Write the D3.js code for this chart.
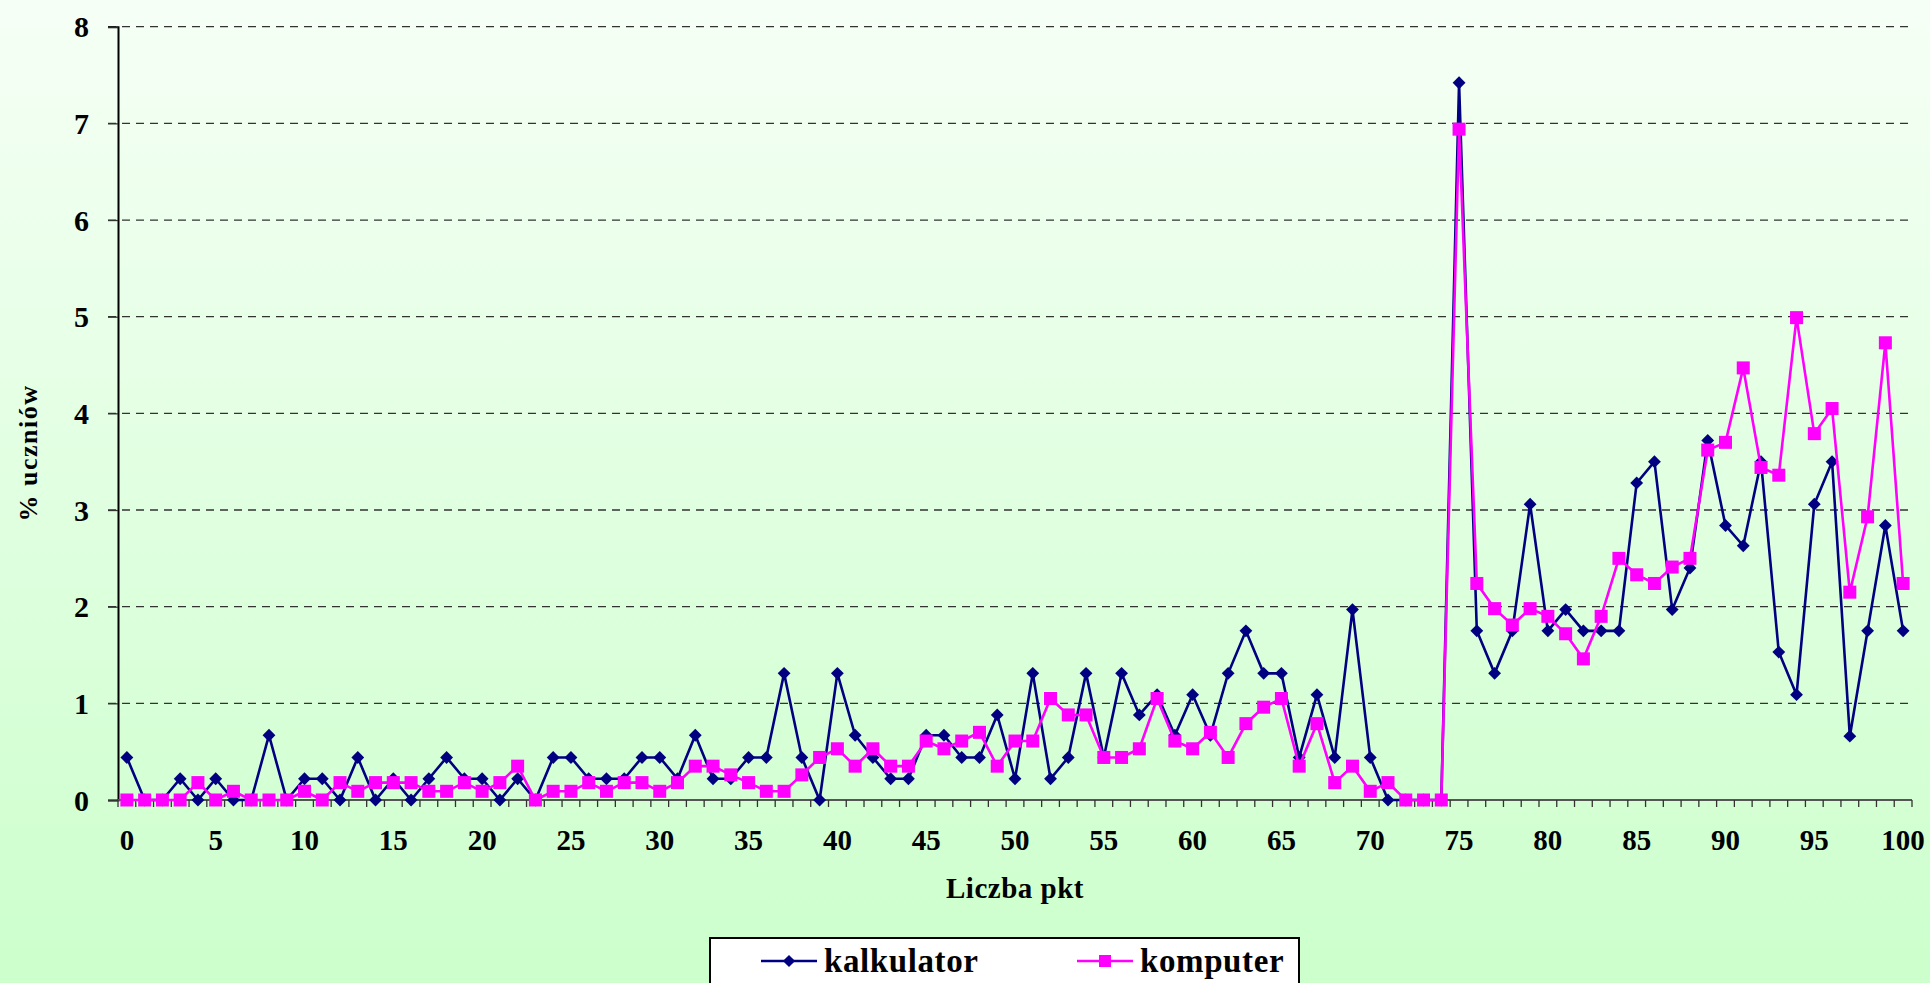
<!DOCTYPE html>
<html>
<head>
<meta charset="utf-8">
<script src="https://cdn.jsdelivr.net/npm/d3@7"></script>
<style>
    body { margin: 0; padding: 0; overflow: hidden; }
    text { font-family: "Liberation Serif", "Times New Roman", serif; font-weight: bold; fill: #000; }
</style>
</head>
<body>
<div id="vis"></div>
<script>
// Points scored (0..100) - the category axis
var points = d3.range(0, 101);

// % of students - calculator group
var kalkulator = [
    0.44, 0, 0, 0.22, 0, 0.22, 0, 0, 0.67, 0,
    0.22, 0.22, 0, 0.44, 0, 0.22, 0, 0.22, 0.44, 0.22,
    0.22, 0, 0.22, 0, 0.44, 0.44, 0.22, 0.22, 0.22, 0.44,
    0.44, 0.22, 0.67, 0.22, 0.22, 0.44, 0.44, 1.31, 0.44, 0,
    1.31, 0.67, 0.44, 0.22, 0.22, 0.67, 0.67, 0.44, 0.44, 0.88,
    0.22, 1.31, 0.22, 0.44, 1.31, 0.44, 1.31, 0.88, 1.09, 0.67,
    1.09, 0.67, 1.31, 1.75, 1.31, 1.31, 0.44, 1.09, 0.44, 1.97,
    0.44, 0, 0, 0, 0, 7.42, 1.75, 1.31, 1.75, 3.06,
    1.75, 1.97, 1.75, 1.75, 1.75, 3.28, 3.50, 1.97, 2.40, 3.72,
    2.84, 2.63, 3.50, 1.53, 1.09, 3.06, 3.50, 0.66, 1.75, 2.84,
    1.75
];

// % of students - computer group
var komputer = [
    0, 0, 0, 0, 0.18, 0, 0.09, 0, 0, 0,
    0.09, 0, 0.18, 0.09, 0.18, 0.18, 0.18, 0.09, 0.09, 0.18,
    0.09, 0.18, 0.35, 0, 0.09, 0.09, 0.18, 0.09, 0.18, 0.18,
    0.09, 0.18, 0.35, 0.35, 0.26, 0.18, 0.09, 0.09, 0.26, 0.44,
    0.53, 0.35, 0.53, 0.35, 0.35, 0.61, 0.53, 0.61, 0.70, 0.35,
    0.61, 0.61, 1.05, 0.88, 0.88, 0.44, 0.44, 0.53, 1.05, 0.61,
    0.53, 0.70, 0.44, 0.79, 0.96, 1.05, 0.35, 0.79, 0.18, 0.35,
    0.09, 0.18, 0, 0, 0, 6.94, 2.24, 1.98, 1.81, 1.98,
    1.90, 1.72, 1.46, 1.90, 2.50, 2.33, 2.24, 2.41, 2.50, 3.62,
    3.70, 4.47, 3.44, 3.36, 4.99, 3.79, 4.05, 2.15, 2.93, 4.73,
    2.24
];

// Tick labels
var xTickLabels = d3.range(0, 101, 5);
var yTickValues = [0, 1, 2, 3, 4, 5, 6, 7, 8];

var seriesNames = ["kalkulator", "komputer"];

// SVG size
var width = 1930;
var height = 983;

// plot area
var margin = { top: 26.7, right: 18, bottom: 183, left: 118 };
var drawWidth = width - margin.left - margin.right;
var drawHeight = height - margin.top - margin.bottom;

var svg = d3.select("#vis").append("svg").attr("width", width).attr("height", height);

// background gradient
var defs = svg.append("defs");
var grad = defs.append("linearGradient").attr("id", "bg").attr("x1", 0).attr("y1", 0).attr("x2", 0).attr("y2", 1);
grad.append("stop").attr("offset", "0%").attr("stop-color", "#f6fff6");
grad.append("stop").attr("offset", "100%").attr("stop-color", "#ccffcc");
svg.append("rect").attr("width", width).attr("height", height).attr("fill", "url(#bg)");

/************************************** Scales ***************************************/
var xScale = d3.scaleBand().domain(points).range([margin.left, margin.left + drawWidth]).paddingInner(0).paddingOuter(0);
var yScale = d3.scaleLinear().domain([0, 8]).range([margin.top + drawHeight, margin.top]);

function cx(d) { return xScale(d) + xScale.bandwidth() / 2; }

/************************************** Gridlines ***************************************/
svg.append("g").selectAll("line")
    .data(yTickValues.filter(function(v) { return v > 0; }))
    .enter().append("line")
    .attr("x1", margin.left - 10)
    .attr("x2", margin.left + drawWidth)
    .attr("y1", function(d) { return yScale(d); })
    .attr("y2", function(d) { return yScale(d); })
    .attr("stroke", "#333")
    .attr("stroke-width", 1.3)
    .attr("stroke-dasharray", "8,6");

/************************************** Axes ***************************************/
// y axis
var yAxis = d3.axisLeft(yScale).tickValues(yTickValues).tickSize(10).tickPadding(19).tickFormat(d3.format("d"));
var gy = svg.append("g").attr("transform", "translate(" + margin.left + ",0)").call(yAxis);
gy.select(".domain").attr("stroke", "#000").attr("stroke-width", 2);
gy.selectAll(".tick line").attr("stroke", "#333").attr("stroke-width", 1.3);
gy.selectAll(".tick text")
    .attr("font-family", "'Liberation Serif', 'Times New Roman', serif")
    .attr("font-size", 30).attr("font-weight", "bold").attr("fill", "#000")
    .attr("dy", "0.34em");

// x axis: line, tick marks at category boundaries, labels every 5
var x0 = margin.left, x1 = margin.left + drawWidth, yZero = yScale(0);
var gx = svg.append("g");
gx.append("line").attr("x1", x0).attr("x2", x1).attr("y1", yZero).attr("y2", yZero)
    .attr("stroke", "#555").attr("stroke-width", 2);
gx.selectAll("line.tk").data(points.concat([101])).enter().append("line")
    .attr("class", "tk")
    .attr("x1", function(d) { return d <= 100 ? xScale(d) : x1; })
    .attr("x2", function(d) { return d <= 100 ? xScale(d) : x1; })
    .attr("y1", yZero).attr("y2", yZero + 7)
    .attr("stroke", "#333").attr("stroke-width", 1.3);
gx.selectAll("text").data(xTickLabels).enter().append("text")
    .attr("x", function(d) { return cx(d); })
    .attr("y", yZero + 50)
    .attr("text-anchor", "middle")
    .attr("font-size", 29)
    .text(function(d) { return d; });

// axis titles
svg.append("text")
    .attr("x", (x0 + x1) / 2).attr("y", 898)
    .attr("text-anchor", "middle")
    .attr("font-size", 29)
    .attr("letter-spacing", 0.5)
    .text("Liczba pkt");

svg.append("text")
    .attr("transform", "translate(37,453) rotate(-90)")
    .attr("text-anchor", "middle")
    .attr("font-size", 26)
    .attr("letter-spacing", 1.5)
    .text("% uczniów");

/************************************** Series ***************************************/
var line = d3.line().x(function(d, i) { return cx(points[i]); }).y(function(d) { return yScale(d); });
var diamond = d3.symbol().type(d3.symbolDiamond2).size(105);

// kalkulator
svg.append("path").datum(kalkulator).attr("d", line)
    .attr("fill", "none").attr("stroke", "#000080").attr("stroke-width", 2.6);
svg.append("g").selectAll("path").data(kalkulator).enter().append("path")
    .attr("d", diamond)
    .attr("transform", function(d, i) { return "translate(" + cx(points[i]) + "," + yScale(d) + ")"; })
    .attr("fill", "#000080");

// komputer
svg.append("path").datum(komputer).attr("d", line)
    .attr("fill", "none").attr("stroke", "#ff00ff").attr("stroke-width", 2.6);
svg.append("g").selectAll("rect").data(komputer).enter().append("rect")
    .attr("x", function(d, i) { return cx(points[i]) - 6.5; })
    .attr("y", function(d) { return yScale(d) - 6.5; })
    .attr("width", 13).attr("height", 13)
    .attr("fill", "#ff00ff");

/************************************** Legend ***************************************/
var lg = svg.append("g");
lg.append("rect").attr("x", 710).attr("y", 938).attr("width", 589).attr("height", 70)
    .attr("fill", "#fff").attr("stroke", "#000").attr("stroke-width", 2);

var legendItems = [
    { name: seriesNames[0], color: "#000080", x: 761, marker: "diamond" },
    { name: seriesNames[1], color: "#ff00ff", x: 1077, marker: "square" }
];
legendItems.forEach(function(it) {
    lg.append("line").attr("x1", it.x).attr("x2", it.x + 56).attr("y1", 961).attr("y2", 961)
        .attr("stroke", it.color).attr("stroke-width", 2.6);
    if (it.marker === "diamond") {
        lg.append("path").attr("d", d3.symbol().type(d3.symbolDiamond2).size(95))
            .attr("transform", "translate(" + (it.x + 28) + ",961)").attr("fill", it.color);
    } else {
        lg.append("rect").attr("x", it.x + 22).attr("y", 955).attr("width", 12).attr("height", 12).attr("fill", it.color);
    }
    lg.append("text").attr("x", it.x + 63).attr("y", 972)
        .attr("font-size", 33).attr("letter-spacing", 0.6)
        .text(it.name);
});
</script>
</body>
</html>
